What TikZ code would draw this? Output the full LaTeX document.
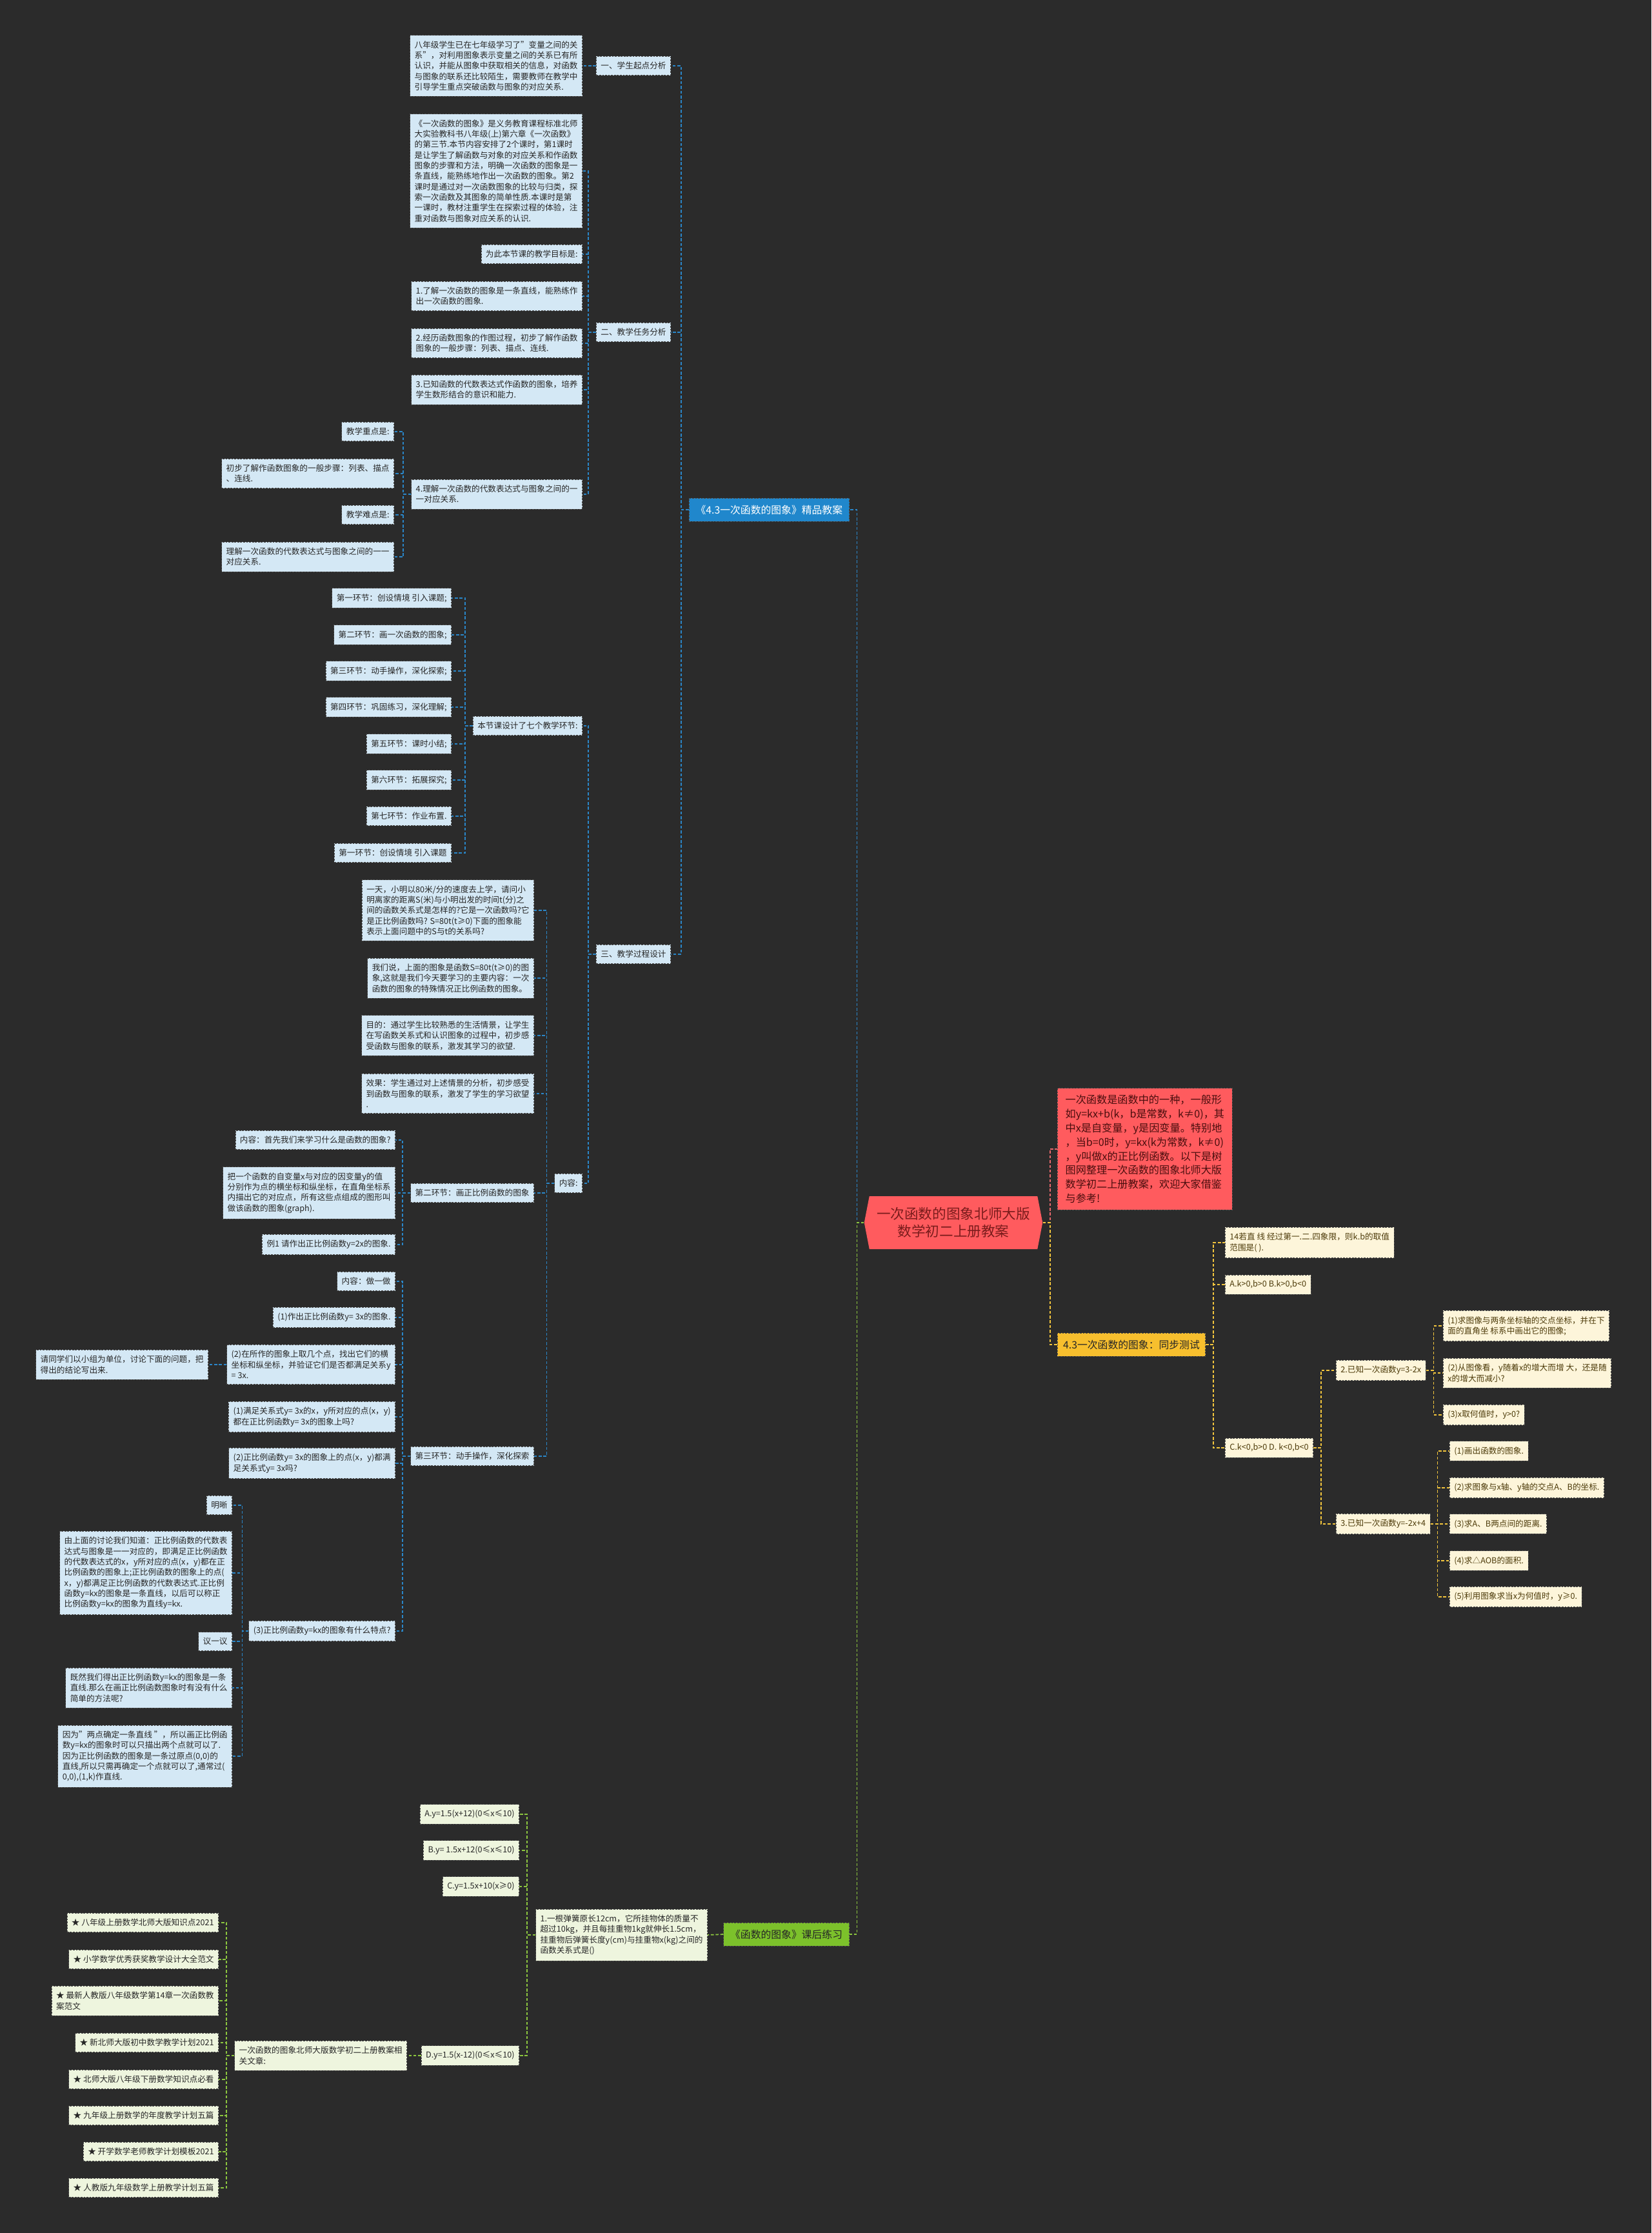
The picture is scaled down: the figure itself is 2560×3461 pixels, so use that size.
\documentclass[tikz,border=0pt]{standalone}
\usepackage{fontspec}
\setmainfont{Noto Sans CJK SC}
\usepackage{xcolor}
\usepackage{tikz}
\usetikzlibrary{shapes.symbols}

\definecolor{bgc}{HTML}{2B2B2B}
\definecolor{txtc}{HTML}{262626}
\definecolor{rootred}{HTML}{FF5B5E}
\definecolor{roottxt}{HTML}{7A1C1C}
\definecolor{notetxt}{HTML}{4A0E0E}
\definecolor{noteline}{HTML}{E8686C}
\definecolor{blueline}{HTML}{2A86C8}
\definecolor{bluefill}{HTML}{D4E8F5}
\definecolor{bluemain}{HTML}{2087CC}
\definecolor{yelline}{HTML}{F2C53D}
\definecolor{yelfill}{HTML}{FDF5DA}
\definecolor{yelmain}{HTML}{F7BF2E}
\definecolor{yeltxt}{HTML}{4D3B0A}
\definecolor{grnline}{HTML}{8CC63F}
\definecolor{grnfill}{HTML}{EEF5DE}
\definecolor{grnmain}{HTML}{7CC12B}

\begin{document}
\begin{tikzpicture}[x=0.02cm,y=-0.02cm]
				\tikzstyle{leaf}=[draw=black!70, dash pattern=on 1.6pt off 1pt, line width=0.4pt, inner xsep=4pt, inner ysep=5pt, align=left, text=txtc, font=\fontsize{7.2}{9.3}\selectfont]
				\tikzstyle{bleaf}=[leaf, fill=bluefill, anchor=east]
				\tikzstyle{gleaf}=[leaf, fill=grnfill, anchor=east]
				\tikzstyle{yleaf}=[leaf, fill=yelfill, anchor=west, text=yeltxt]
				\tikzstyle{branch}=[leaf, inner xsep=6pt, inner ysep=6pt, font=\fontsize{9}{12}\selectfont]
				\tikzstyle{root}=[signal, signal to=west and east, signal pointer angle=158, fill=rootred, text=roottxt, align=center, minimum height=1.64cm, inner xsep=6.5pt, font=\fontsize{12.3}{15.3}\selectfont]
				\tikzset{bline/.style = {draw=blueline, line width=1pt, dash pattern=on 2.6pt off 1.6pt}}
				\tikzset{gline/.style = {draw=grnline, line width=1pt, dash pattern=on 2.6pt off 1.6pt}}
				\tikzset{yline/.style = {draw=yelline, line width=1pt, dash pattern=on 2.6pt off 1.6pt}}
				\tikzset{rline/.style = {draw=noteline, line width=1pt, dash pattern=on 2.6pt off 1.6pt}}

				% background
				\fill[bgc] (0,0) rectangle (2560,3461);

				% root + main branches
				\node[root](root) at (1478,1895) {一次函数的图象北师大版\\数学初二上册教案};
				\node[branch, fill=bluemain, text=white, anchor=east](bmain) at (1317,790) {《4.3一次函数的图象》精品教案};
				\node[branch, fill=grnmain, anchor=east](gmain) at (1317,2998) {《函数的图象》课后练习};
				\node[branch, fill=yelmain, anchor=west, inner xsep=5pt](ymain) at (1639,2084) {4.3一次函数的图象：同步测试};
				\node[leaf, fill=rootred, text=notetxt, anchor=west, inner xsep=7pt, inner ysep=6pt, font=\fontsize{9.2}{12.4}\selectfont](note) at (1639,1781) {一次函数是函数中的一种，一般形\\如y=kx+b(k，b是常数，k≠0)，其\\中x是自变量，y是因变量。特别地\\，当b=0时，y=kx(k为常数，k≠0)\\，y叫做x的正比例函数。以下是树\\图网整理一次函数的图象北师大版\\数学初二上册教案，欢迎大家借鉴\\与参考!};
				\draw[bline](root.west) -- ++(-11,0) |- (bmain.east);
				\draw[gline](root.west) -- ++(-11,0) |- (gmain.east);
				\draw[rline](root.east) -- ++(11,0) |- (note.west);
				\draw[yline](root.east) -- ++(11,0) |- (ymain.west);

				% blue: second level
				\node[bleaf](s1) at (1040,102) {一、学生起点分析};
				\node[bleaf](s2) at (1040,515) {二、教学任务分析};
				\node[bleaf](s3) at (1040,1479) {三、教学过程设计};
				\draw[bline](bmain.west) -- ++(-12,0) |- (s1.east);
				\draw[bline](bmain.west) -- ++(-12,0) |- (s2.east);
				\draw[bline](bmain.west) -- ++(-12,0) |- (s3.east);

				% blue: 一、
				\node[bleaf](a1) at (903,102) {八年级学生已在七年级学习了"变量之间的关\\系"，对利用图象表示变量之间的关系已有所\\认识，并能从图象中获取相关的信息，对函数\\与图象的联系还比较陌生，需要教师在教学中\\引导学生重点突破函数与图象的对应关系.};
				\draw[bline](s1.west) -- (a1.east);

				% blue: 二、
				\node[bleaf](b1) at (903,265) {《一次函数的图象》是义务教育课程标准北师\\大实验教科书八年级(上)第六章《一次函数》\\的第三节.本节内容安排了2个课时，第1课时\\是让学生了解函数与对象的对应关系和作函数\\图象的步骤和方法，明确一次函数的图象是一\\条直线，能熟练地作出一次函数的图象。第2\\课时是通过对一次函数图象的比较与归类，探\\索一次函数及其图象的简单性质.本课时是第\\一课时，教材注重学生在探索过程的体验，注\\重对函数与图象对应关系的认识.};
				\node[bleaf](b2) at (903,394) {为此本节课的教学目标是:};
				\node[bleaf](b3) at (903,459) {1.了解一次函数的图象是一条直线，能熟练作\\出一次函数的图象.};
				\node[bleaf](b4) at (903,532) {2.经历函数图象的作图过程，初步了解作函数\\图象的一般步骤：列表、描点、连线.};
				\node[bleaf](b5) at (903,604) {3.已知函数的代数表达式作函数的图象，培养\\学生数形结合的意识和能力.};
				\node[bleaf](b6) at (903,766) {4.理解一次函数的代数表达式与图象之间的一\\一对应关系.};
				\draw[bline](s2.west) -- ++(-12,0) |- (b1.east);
				\draw[bline](s2.west) -- ++(-12,0) |- (b2.east);
				\draw[bline](s2.west) -- ++(-12,0) |- (b3.east);
				\draw[bline](s2.west) -- ++(-12,0) |- (b4.east);
				\draw[bline](s2.west) -- ++(-12,0) |- (b5.east);
				\draw[bline](s2.west) -- ++(-12,0) |- (b6.east);

				% blue: 4.
				\node[bleaf](b61) at (611,669) {教学重点是:};
				\node[bleaf](b62) at (611,734) {初步了解作函数图象的一般步骤：列表、描点\\、连线.};
				\node[bleaf](b63) at (611,798) {教学难点是:};
				\node[bleaf](b64) at (611,863) {理解一次函数的代数表达式与图象之间的一一\\对应关系.};
				\draw[bline](b6.west) -- ++(-12,0) |- (b61.east);
				\draw[bline](b6.west) -- ++(-12,0) |- (b62.east);
				\draw[bline](b6.west) -- ++(-12,0) |- (b63.east);
				\draw[bline](b6.west) -- ++(-12,0) |- (b64.east);

				% blue: 三、
				\node[bleaf](c1) at (903,1125) {本节课设计了七个教学环节:};
				\node[bleaf](c2) at (903,1834) {内容:};
				\draw[bline](s3.west) -- ++(-12,0) |- (c1.east);
				\draw[bline](s3.west) -- ++(-12,0) |- (c2.east);

				% blue: seven steps
				\node[bleaf](c11) at (700,927) {第一环节：创设情境 引入课题;};
				\node[bleaf](c12) at (700,984) {第二环节：画一次函数的图象;};
				\node[bleaf](c13) at (700,1040) {第三环节：动手操作，深化探索;};
				\node[bleaf](c14) at (700,1096) {第四环节：巩固练习，深化理解;};
				\node[bleaf](c15) at (700,1153) {第五环节：课时小结;};
				\node[bleaf](c16) at (700,1209) {第六环节：拓展探究;};
				\node[bleaf](c17) at (700,1265) {第七环节：作业布置.};
				\node[bleaf](c18) at (700,1322) {第一环节：创设情境 引入课题};
				\draw[bline](c1.west) -- ++(-12,0) |- (c11.east);
				\draw[bline](c1.west) -- ++(-12,0) |- (c12.east);
				\draw[bline](c1.west) -- ++(-12,0) |- (c13.east);
				\draw[bline](c1.west) -- ++(-12,0) |- (c14.east);
				\draw[bline](c1.west) -- ++(-12,0) |- (c15.east);
				\draw[bline](c1.west) -- ++(-12,0) |- (c16.east);
				\draw[bline](c1.west) -- ++(-12,0) |- (c17.east);
				\draw[bline](c1.west) -- ++(-12,0) |- (c18.east);

				% blue: 内容
				\node[bleaf](d1) at (828,1411) {一天，小明以80米/分的速度去上学，请问小\\明离家的距离S(米)与小明出发的时间t(分)之\\间的函数关系式是怎样的?它是一次函数吗?它\\是正比例函数吗? S=80t(t≥0)下面的图象能\\表示上面问题中的S与t的关系吗?};
				\node[bleaf](d2) at (828,1516) {我们说，上面的图象是函数S=80t(t≥0)的图\\象,这就是我们今天要学习的主要内容：一次\\函数的图象的特殊情况正比例函数的图象。};
				\node[bleaf](d3) at (828,1605) {目的：通过学生比较熟悉的生活情景，让学生\\在写函数关系式和认识图象的过程中，初步感\\受函数与图象的联系，激发其学习的欲望.};
				\node[bleaf](d4) at (828,1695) {效果：学生通过对上述情景的分析，初步感受\\到函数与图象的联系，激发了学生的学习欲望\\.};
				\node[bleaf](d5) at (828,1849) {第二环节：画正比例函数的图象};
				\node[bleaf](d6) at (828,2257) {第三环节：动手操作，深化探索};
				\draw[bline](c2.west) -- ++(-12,0) |- (d1.east);
				\draw[bline](c2.west) -- ++(-12,0) |- (d2.east);
				\draw[bline](c2.west) -- ++(-12,0) |- (d3.east);
				\draw[bline](c2.west) -- ++(-12,0) |- (d4.east);
				\draw[bline](c2.west) -- ++(-12,0) |- (d5.east);
				\draw[bline](c2.west) -- ++(-12,0) |- (d6.east);

				% blue: 第二环节
				\node[bleaf](e1) at (613,1767) {内容：首先我们来学习什么是函数的图象?};
				\node[bleaf](e2) at (613,1849) {把一个函数的自变量x与对应的因变量y的值\\分别作为点的横坐标和纵坐标，在直角坐标系\\内描出它的对应点，所有这些点组成的图形叫\\做该函数的图象(graph).};
				\node[bleaf](e3) at (613,1929) {例1 请作出正比例函数y=2x的图象.};
				\draw[bline](d5.west) -- ++(-12,0) |- (e1.east);
				\draw[bline](d5.west) -- ++(-12,0) |- (e2.east);
				\draw[bline](d5.west) -- ++(-12,0) |- (e3.east);

				% blue: 第三环节
				\node[bleaf](f1) at (613,1986) {内容：做一做};
				\node[bleaf](f2) at (613,2042) {(1)作出正比例函数y= 3x的图象.};
				\node[bleaf](f3) at (613,2115) {(2)在所作的图象上取几个点，找出它们的横\\坐标和纵坐标，并验证它们是否都满足关系y\\= 3x.};
				\node[bleaf](f4) at (613,2196) {(1)满足关系式y= 3x的x，y所对应的点(x，y)\\都在正比例函数y= 3x的图象上吗?};
				\node[bleaf](f5) at (613,2268) {(2)正比例函数y= 3x的图象上的点(x，y)都满\\足关系式y= 3x吗?};
				\node[bleaf](f6) at (613,2528) {(3)正比例函数y=kx的图象有什么特点?};
				\draw[bline](d6.west) -- ++(-12,0) |- (f1.east);
				\draw[bline](d6.west) -- ++(-12,0) |- (f2.east);
				\draw[bline](d6.west) -- ++(-12,0) |- (f3.east);
				\draw[bline](d6.west) -- ++(-12,0) |- (f4.east);
				\draw[bline](d6.west) -- ++(-12,0) |- (f5.east);
				\draw[bline](d6.west) -- ++(-12,0) |- (f6.east);

				\node[bleaf](f31) at (323,2115) {请同学们以小组为单位，讨论下面的问题，把\\得出的结论写出来.};
				\draw[bline](f3.west) -- (f31.east);

				% blue: (3)
				\node[bleaf](g1) at (360,2333) {明晰};
				\node[bleaf](g2) at (360,2438) {由上面的讨论我们知道：正比例函数的代数表\\达式与图象是一一对应的，即满足正比例函数\\的代数表达式的x，y所对应的点(x，y)都在正\\比例函数的图象上;正比例函数的图象上的点(\\x，y)都满足正比例函数的代数表达式.正比例\\函数y=kx的图象是一条直线，以后可以称正\\比例函数y=kx的图象为直线y=kx.};
				\node[bleaf](g3) at (360,2544) {议一议};
				\node[bleaf](g4) at (360,2616) {既然我们得出正比例函数y=kx的图象是一条\\直线.那么在画正比例函数图象时有没有什么\\简单的方法呢?};
				\node[bleaf](g5) at (360,2722) {因为"两点确定一条直线 "，所以画正比例函\\数y=kx的图象时可以只描出两个点就可以了.\\因为正比例函数的图象是一条过原点(0,0)的\\直线,所以只需再确定一个点就可以了,通常过(\\0,0),(1,k)作直线.};
				\draw[bline](f6.west) -- ++(-10,0) |- (g1.east);
				\draw[bline](f6.west) -- ++(-10,0) |- (g2.east);
				\draw[bline](f6.west) -- ++(-10,0) |- (g3.east);
				\draw[bline](f6.west) -- ++(-10,0) |- (g4.east);
				\draw[bline](f6.west) -- ++(-10,0) |- (g5.east);

				% green: exercise
				\node[gleaf](h1) at (1097,2999) {1.一根弹簧原长12cm，它所挂物体的质量不\\超过10kg，并且每挂重物1kg就伸长1.5cm，\\挂重物后弹簧长度y(cm)与挂重物x(kg)之间的\\函数关系式是()};
				\draw[gline](gmain.west) -- (h1.east);
				\node[gleaf](h11) at (805,2812) {A.y=1.5(x+12)(0≤x≤10)};
				\node[gleaf](h12) at (805,2868) {B.y= 1.5x+12(0≤x≤10)};
				\node[gleaf](h13) at (805,2924) {C.y=1.5x+10(x≥0)};
				\node[gleaf](h14) at (805,3186) {D.y=1.5(x-12)(0≤x≤10)};
				\draw[gline](h1.west) -- ++(-13,0) |- (h11.east);
				\draw[gline](h1.west) -- ++(-13,0) |- (h12.east);
				\draw[gline](h1.west) -- ++(-13,0) |- (h13.east);
				\draw[gline](h1.west) -- ++(-13,0) |- (h14.east);

				% green: related articles
				\node[gleaf](h141) at (631,3186) {一次函数的图象北师大版数学初二上册教案相\\关文章:};
				\draw[gline](h14.west) -- (h141.east);
				\node[gleaf](k1) at (339,2980) {★ 八年级上册数学北师大版知识点2021};
				\node[gleaf](k2) at (339,3037) {★ 小学数学优秀获奖教学设计大全范文};
				\node[gleaf](k3) at (339,3101) {★ 最新人教版八年级数学第14章一次函数教\\案范文};
				\node[gleaf](k4) at (339,3166) {★ 新北师大版初中数学教学计划2021};
				\node[gleaf](k5) at (339,3223) {★ 北师大版八年级下册数学知识点必看};
				\node[gleaf](k6) at (339,3279) {★ 九年级上册数学的年度教学计划五篇};
				\node[gleaf](k7) at (339,3335) {★ 开学数学老师教学计划模板2021};
				\node[gleaf](k8) at (339,3391) {★ 人教版九年级数学上册教学计划五篇};
				\draw[gline](h141.west) -- ++(-12,0) |- (k1.east);
				\draw[gline](h141.west) -- ++(-12,0) |- (k2.east);
				\draw[gline](h141.west) -- ++(-12,0) |- (k3.east);
				\draw[gline](h141.west) -- ++(-12,0) |- (k4.east);
				\draw[gline](h141.west) -- ++(-12,0) |- (k5.east);
				\draw[gline](h141.west) -- ++(-12,0) |- (k6.east);
				\draw[gline](h141.west) -- ++(-12,0) |- (k7.east);
				\draw[gline](h141.west) -- ++(-12,0) |- (k8.east);

				% yellow: test
				\node[yleaf](y1) at (1899,1926) {14若直 线 经过第一.二.四象限，则k.b的取值\\范围是( ).};
				\node[yleaf](y2) at (1899,1991) {A.k>0,b>0 B.k>0,b<0};
				\node[yleaf](y3) at (1899,2244) {C.k<0,b>0 D. k<0,b<0};
				\draw[yline](ymain.east) -- ++(12,0) |- (y1.west);
				\draw[yline](ymain.east) -- ++(12,0) |- (y2.west);
				\draw[yline](ymain.east) -- ++(12,0) |- (y3.west);

				\node[yleaf](y31) at (2071,2124) {2.已知一次函数y=3-2x};
				\node[yleaf](y32) at (2071,2362) {3.已知一次函数y=-2x+4};
				\draw[yline](y3.east) -- ++(12,0) |- (y31.west);
				\draw[yline](y3.east) -- ++(12,0) |- (y32.west);

				% yellow: y=3-2x
				\node[yleaf](y311) at (2237,2055) {(1)求图像与两条坐标轴的交点坐标，并在下\\面的直角坐 标系中画出它的图像;};
				\node[yleaf](y312) at (2237,2128) {(2)从图像看，y随着x的增大而增 大，还是随\\x的增大而减小?};
				\node[yleaf](y313) at (2237,2193) {(3)x取何值时，y>0?};
				\draw[yline](y31.east) -- ++(12,0) |- (y311.west);
				\draw[yline](y31.east) -- ++(12,0) |- (y312.west);
				\draw[yline](y31.east) -- ++(12,0) |- (y313.west);

				% yellow: y=-2x+4
				\node[yleaf](y321) at (2247,2249) {(1)画出函数的图象.};
				\node[yleaf](y322) at (2247,2306) {(2)求图象与x轴、y轴的交点A、B的坐标.};
				\node[yleaf](y323) at (2247,2362) {(3)求A、B两点间的距离.};
				\node[yleaf](y324) at (2247,2419) {(4)求△AOB的面积.};
				\node[yleaf](y325) at (2247,2475) {(5)利用图象求当x为何值时，y≥0.};
				\draw[yline](y32.east) -- ++(11,0) |- (y321.west);
				\draw[yline](y32.east) -- ++(11,0) |- (y322.west);
				\draw[yline](y32.east) -- ++(11,0) |- (y323.west);
				\draw[yline](y32.east) -- ++(11,0) |- (y324.west);
				\draw[yline](y32.east) -- ++(11,0) |- (y325.west);
\end{tikzpicture}
\end{document}
